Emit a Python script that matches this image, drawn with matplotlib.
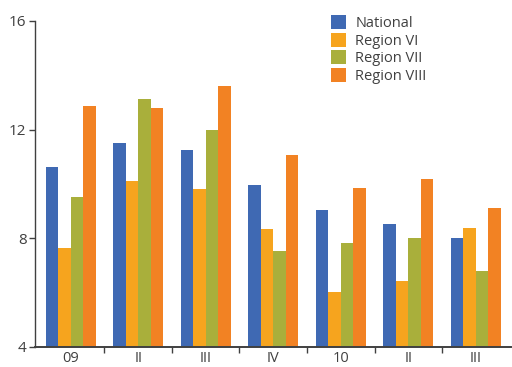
import numpy as np
import matplotlib.pyplot as plt
from matplotlib.ticker import FixedLocator

plt.rcParams['font.family'] = ['Open Sans', 'DejaVu Sans']

# Quarter labels
categories = ["09", "II", "III", "IV", "10", "II", "III"]
series_names = ["National", "Region VI", "Region VII", "Region VIII"]

national = [10.62, 11.51, 11.25, 9.96, 9.04, 8.52, 8.00]
region_vi = [7.63, 10.11, 9.81, 8.34, 6.01, 6.42, 8.37]
region_vii = [9.52, 13.13, 12.00, 7.53, 7.82, 8.00, 6.78]
region_viii = [12.87, 12.78, 13.61, 11.07, 9.85, 10.18, 9.11]

colors = ["#3F69B3", "#F6A41E", "#A9AF3B", "#F28223"]
text_color = "#404040"

fig = plt.figure(figsize=(5.12, 3.67), dpi=100)
ax = fig.add_axes([0.068, 0.055, 0.93, 0.888])

x = np.arange(len(categories))
width = 0.185
all_series = [national, region_vi, region_vii, region_viii]
for i, (vals, name, c) in enumerate(zip(all_series, series_names, colors)):
    offset = (i - 1.5) * width
    heights = np.array(vals) - 4
    ax.bar(x + offset, heights, width=width, bottom=4, color=c, label=name)

ax.set_xlim(-0.53, len(categories) - 0.48)
ax.set_ylim(4, 16)
ax.set_yticks([4, 8, 12, 16])
ax.set_xticks(x)
ax.set_xticklabels(categories)
ax.xaxis.set_minor_locator(FixedLocator(np.arange(0.5, len(categories) - 0.5, 1)))

for side in ["top", "right"]:
    ax.spines[side].set_visible(False)
ax.spines["left"].set_color("#404040")
ax.spines["bottom"].set_color("#404040")
ax.spines["left"].set_linewidth(1.0)
ax.spines["bottom"].set_linewidth(1.4)

ax.tick_params(axis="y", length=4, width=1, color="#404040", labelsize=11,
               labelcolor=text_color, pad=2)
ax.tick_params(axis="x", which="major", length=0, labelsize=10.5,
               labelcolor=text_color, pad=3)
ax.tick_params(axis="x", which="minor", length=4, width=1, color="#404040")

leg = ax.legend(loc="upper left", bbox_to_anchor=(0.61, 1.035), frameon=False,
                fontsize=10.5, handlelength=1.0, handleheight=1.1,
                labelspacing=0.1, handletextpad=0.65, borderaxespad=0)
for t in leg.get_texts():
    t.set_color(text_color)

fig.savefig("out.png", dpi=100)
